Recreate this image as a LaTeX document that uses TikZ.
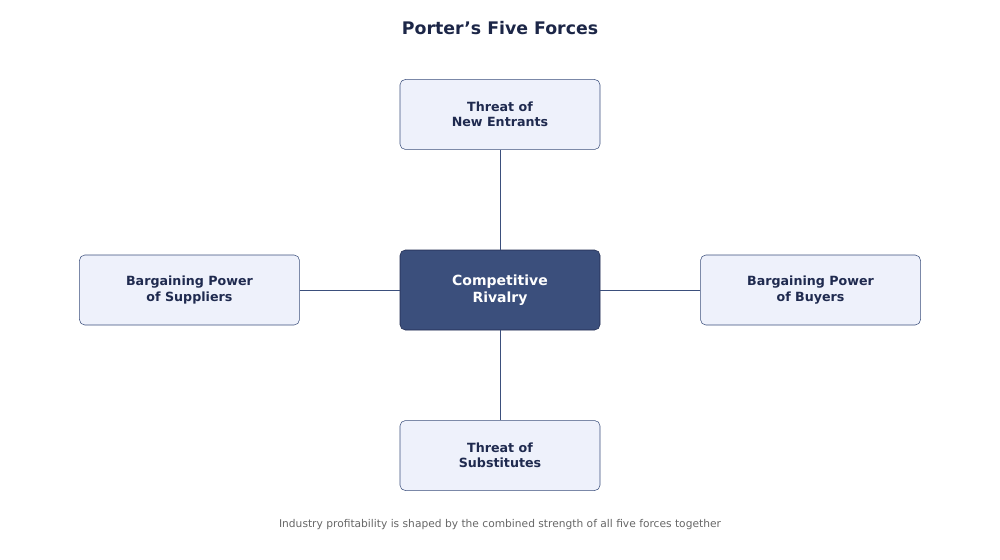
\documentclass[tikz,border=0pt]{standalone}
\usepackage{fontspec}
\setmainfont{DejaVu Sans}
\usetikzlibrary{positioning}
\definecolor{navy}{HTML}{3B4F7C}
\definecolor{inkblue}{HTML}{1F2A4F}
\definecolor{paleblue}{HTML}{EEF1FB}
\tikzset{
  line width = 0.9pt,
  force/.style={
    draw            = navy,
    fill            = paleblue,
    rounded corners = 4pt,
    minimum width   = 150pt,
    minimum height  = 52.5pt,
    text            = inkblue,
    font            = \fontsize{9.5}{11.5}\selectfont\bfseries,
    align           = center},
  core/.style={
    force,
    draw           = inkblue,
    fill           = navy,
    text           = white,
    minimum height = 60pt,
    font           = \fontsize{10.5}{13}\selectfont\bfseries},
  link/.style={draw = navy}
}
\begin{document}
\begin{tikzpicture}[x=0.75pt,y=0.75pt]
\useasboundingbox (0,0) rectangle (1000,-560);

\node[text=inkblue!90!black, font=\fontsize{13}{15}\selectfont\bfseries]
  (title) at (500,-28) {Porter's Five Forces};

\node[core] (rivalry) at (500,-290) {Competitive\\Rivalry};

\node[force, above = 75pt of rivalry] (entrants) {Threat of\\New Entrants};
\node[force, below = 67.5pt of rivalry] (subst) {Threat of\\Substitutes};
\node[force, minimum width = 165pt, left = 75pt of rivalry] (suppliers)
  {Bargaining Power\\of Suppliers};
\node[force, minimum width = 165pt, right = 75pt of rivalry] (buyers)
  {Bargaining Power\\of Buyers};

\draw[link] (entrants) -- (rivalry);
\draw[link] (subst) -- (rivalry);
\draw[link] (suppliers) -- (rivalry);
\draw[link] (buyers) -- (rivalry);

\node[text=black!60, font=\fontsize{8}{10}\selectfont] (note) at (500,-525)
  {Industry profitability is shaped by the combined strength of all five forces together};

\end{tikzpicture}
\end{document}
